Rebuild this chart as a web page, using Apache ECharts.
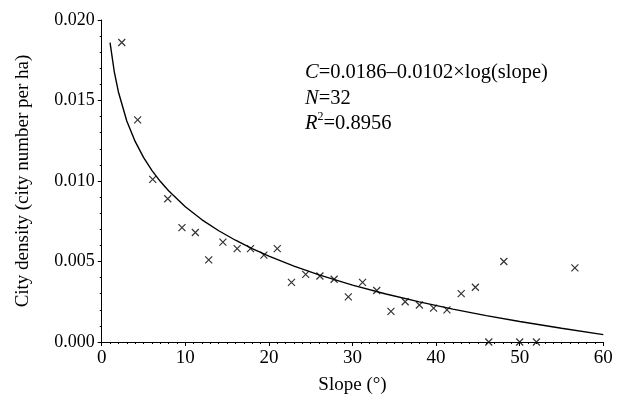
<!DOCTYPE html>
<html>
<head>
<meta charset="utf-8">
<script src="https://cdn.jsdelivr.net/npm/echarts@6/dist/echarts.min.js"></script>
<style>
html,body{margin:0;padding:0;background:#fff;}
#c{width:643px;height:403px;}
</style>
</head>
<body>
<div id="c"></div>
<script>
// Observed data: slope (degrees) vs city density
var slopeValues = [2.4, 4.3, 6.1, 7.9, 9.6, 11.2, 12.8, 14.5, 16.2, 17.8, 19.4, 21.0, 22.7, 24.4, 26.1, 27.8, 29.5, 31.2, 32.9, 34.6, 36.3, 38.0, 39.7, 41.3, 43.0, 44.7, 46.3, 48.1, 50.0, 52.0, 56.6];
var densityValues = [0.0186, 0.0138, 0.0101, 0.0089, 0.0071, 0.0068, 0.0051, 0.0062, 0.0058, 0.0058, 0.0054, 0.0058, 0.0037, 0.0042, 0.0041, 0.0039, 0.0028, 0.0037, 0.0032, 0.0019, 0.0025, 0.0023, 0.0021, 0.0020, 0.0030, 0.0034, 0.0000, 0.0050, 0.0000, 0.0000, 0.0046];
// Fitted curve
var fitSlope = [1, 1.5, 2, 3, 4, 5, 6, 7, 8, 10, 12, 14, 16, 18, 20, 23, 26, 30, 34, 38, 42, 46, 50, 55, 60];
var fitDensity = [0.0186, 0.0168, 0.01553, 0.01373, 0.01246, 0.01147, 0.01066, 0.00998, 0.00939, 0.0084, 0.00759, 0.00691, 0.00632, 0.0058, 0.00533, 0.00471, 0.00417, 0.00353, 0.00298, 0.00249, 0.00204, 0.00164, 0.00127, 0.00085, 0.00046];
var xTickMin = 0, xTickMax = 60, xTickStep = 10;
var yTickMin = 0, yTickMax = 0.02, yTickStep = 0.005;
var xAxisTitle = 'Slope (°)';
var yAxisTitle = 'City density (city number per ha)';
var annotationLines = ['{i|C}=0.0186–0.0102×log(slope)', '{i|N}=32', '{i|R}{sup|2}=0.8956'];

var pts = slopeValues.map(function (s, i) { return [s, densityValues[i]]; });
var fit = fitSlope.map(function (s, i) { return [s, fitDensity[i]]; });

var font = 'Liberation Serif';
var chart = echarts.init(document.getElementById('c'), null, {renderer: 'canvas'});
chart.setOption({
  animation: false,
  backgroundColor: '#fff',
  grid: {left: 101.7, right: 39.7, top: 20, bottom: 61, containLabel: false},
  xAxis: {
    type: 'value', min: xTickMin, max: xTickMax, interval: xTickStep,
    offset: 2.5,
    name: xAxisTitle, nameLocation: 'middle', nameGap: 31,
    nameTextStyle: {fontFamily: font, fontSize: 19, color: '#000'},
    axisLine: {show: true, lineStyle: {color: '#000', width: 1}},
    axisTick: {show: true, inside: false, length: 4, lineStyle: {color: '#000', width: 1}},
    minorTick: {show: true, splitNumber: 10, length: 2, lineStyle: {color: '#000', width: 1}},
    axisLabel: {fontFamily: font, fontSize: 19, color: '#000', margin: 4},
    splitLine: {show: false}
  },
  yAxis: {
    type: 'value', min: yTickMin, max: yTickMax, interval: yTickStep,
    offset: 4,
    name: yAxisTitle, nameLocation: 'middle', nameGap: 65, nameRotate: 90,
    nameTextStyle: {fontFamily: font, fontSize: 19, color: '#000'},
    axisLine: {show: true, lineStyle: {color: '#000', width: 1}},
    axisTick: {show: true, inside: false, length: 4, lineStyle: {color: '#000', width: 1}},
    minorTick: {show: true, splitNumber: 5, length: 2, lineStyle: {color: '#000', width: 1}},
    axisLabel: {fontFamily: font, fontSize: 18, color: '#000', margin: 3,
      formatter: function (v) { return v.toFixed(3); }},
    splitLine: {show: false}
  },
  series: [
    {
      type: 'line', data: fit, showSymbol: false, symbol: 'none', smooth: false,
      lineStyle: {color: '#000', width: 1.4}, z: 2
    },
    {
      type: 'scatter', data: pts,
      symbol: 'path://M0,0L10,10M10,0L0,10', symbolSize: 7,
      itemStyle: {color: 'rgba(0,0,0,0)', borderColor: '#000', borderWidth: 1.2}, z: 3
    }
  ],
  graphic: [{
    type: 'text', left: 305, top: 60,
    style: {
      text: annotationLines.join('\n'),
      fontFamily: font, fontSize: 20.5, fill: '#000', lineHeight: 25.5,
      rich: {
        i: {fontFamily: font, fontSize: 20.5, fontStyle: 'italic', lineHeight: 25.5},
        sup: {fontFamily: font, fontSize: 12, verticalAlign: 'top', lineHeight: 25.5, padding: [0, 0, 9, 0]}
      }
    }
  }]
});
</script>
</body>
</html>
